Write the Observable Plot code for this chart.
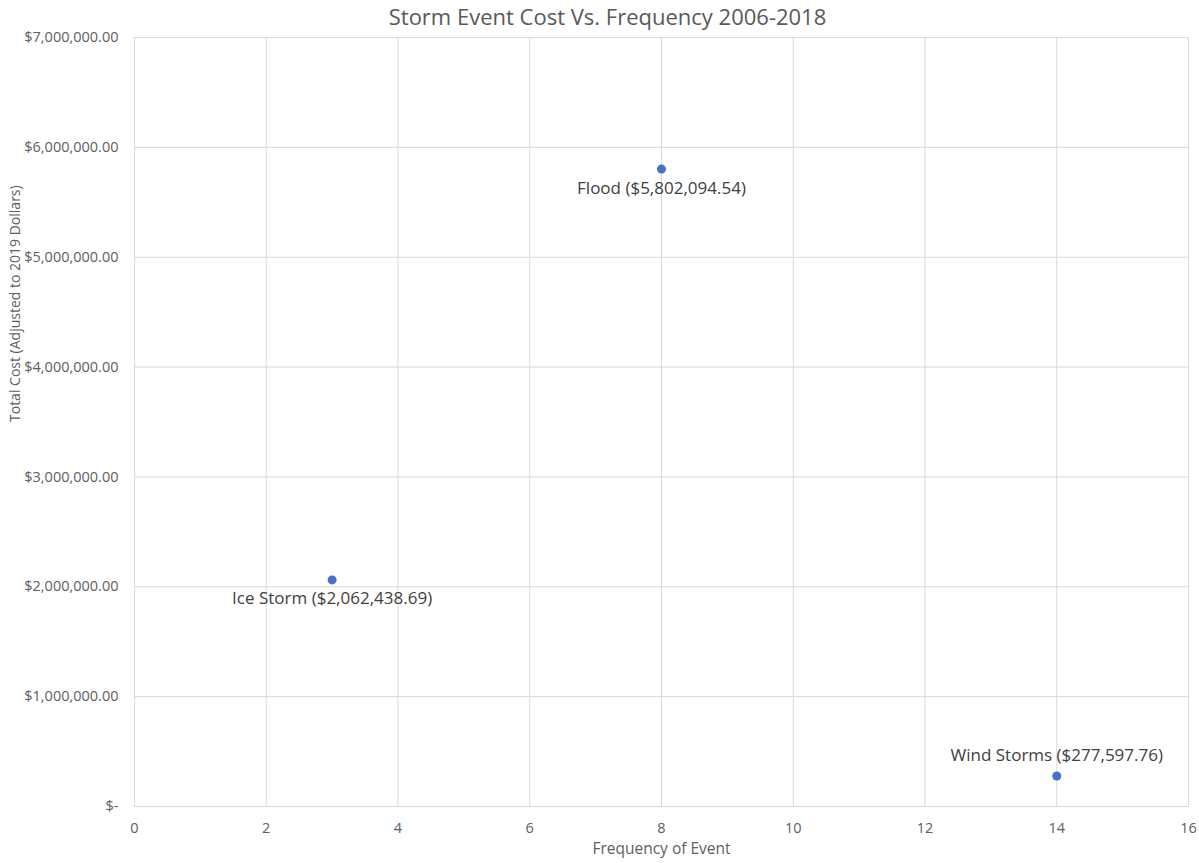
<!DOCTYPE html>
<html>
<head>
<meta charset="utf-8">
<script src="https://cdn.jsdelivr.net/npm/d3@7"></script>
<script src="https://cdn.jsdelivr.net/npm/@observablehq/plot@0.6"></script>
<style>
  body { margin: 0; background: #fff; }
  #chart svg { display: block; }
</style>
</head>
<body>
<div id="chart"></div>
<script>
const events = ["Flood", "Ice Storm", "Wind Storms"];
const frequency = [8, 3, 14];
const cost = [5802094.54, 2062438.69, 277597.76];
const labelPos = ["below", "below", "above"];
const xTicks = [0, 2, 4, 6, 8, 10, 12, 14, 16];
const yTicks = [0, 1000000, 2000000, 3000000, 4000000, 5000000, 6000000, 7000000];
const title = "Storm Event Cost Vs. Frequency 2006-2018";
const xTitle = "Frequency of Event";
const yTitle = "Total Cost (Adjusted to 2019 Dollars)";

const data = events.map((e, i) => ({event: e, x: frequency[i], y: cost[i], pos: labelPos[i]}));
const money = d3.format("$,.2f");
const fmtLabel = d => `${d.event} (${money(d.y)})`;
const yFmt = v => v === 0 ? "$-" : money(v);

const font = "'Open Sans', Calibri, sans-serif";
const plot = Plot.plot({
  width: 1199,
  height: 863,
  marginLeft: 134,
  marginRight: 11,
  marginTop: 37,
  marginBottom: 57,
  style: {fontFamily: font, fontSize: "13px", color: "#595959", background: "#fff"},
  x: {domain: [0, 16], ticks: xTicks, tickSize: 0, label: null},
  y: {domain: [0, 7000000], ticks: yTicks, tickSize: 0, tickFormat: yFmt, label: null},
  marks: [
    Plot.gridX(xTicks, {stroke: "#d9d9d9", strokeOpacity: 1}),
    Plot.gridY(yTicks, {stroke: "#d9d9d9", strokeOpacity: 1}),
    Plot.frame({stroke: "#d9d9d9"}),
    Plot.axisX({ticks: xTicks, tickSize: 0, tickPadding: 16, fill: "#606060", fontSize: 14.5}),
    Plot.axisY({ticks: yTicks, tickSize: 0, tickPadding: 16, tickFormat: yFmt, fill: "#606060", fontSize: 14.5}),
    Plot.dot(data, {x: "x", y: "y", r: 4.5, fill: "#4472C4", stroke: "none"}),
    Plot.text(data.filter(d => d.pos === "below"), {x: "x", y: "y", text: fmtLabel, dy: 19, fontSize: 17, fill: "#404040"}),
    Plot.text(data.filter(d => d.pos === "above"), {x: "x", y: "y", text: fmtLabel, dy: -20, fontSize: 17, fill: "#404040"}),
    Plot.text([title], {frameAnchor: "top", dx: -54, dy: -20, fontSize: 22, fill: "#595959", lineAnchor: "middle"}),
    Plot.text([xTitle], {frameAnchor: "bottom", dy: 47, fontSize: 15.5, fill: "#606060"}),
    Plot.text([yTitle], {frameAnchor: "left", dx: -119, rotate: -90, fontSize: 14, fill: "#606060"})
  ]
});
document.getElementById("chart").append(plot);
</script>
</body>
</html>
